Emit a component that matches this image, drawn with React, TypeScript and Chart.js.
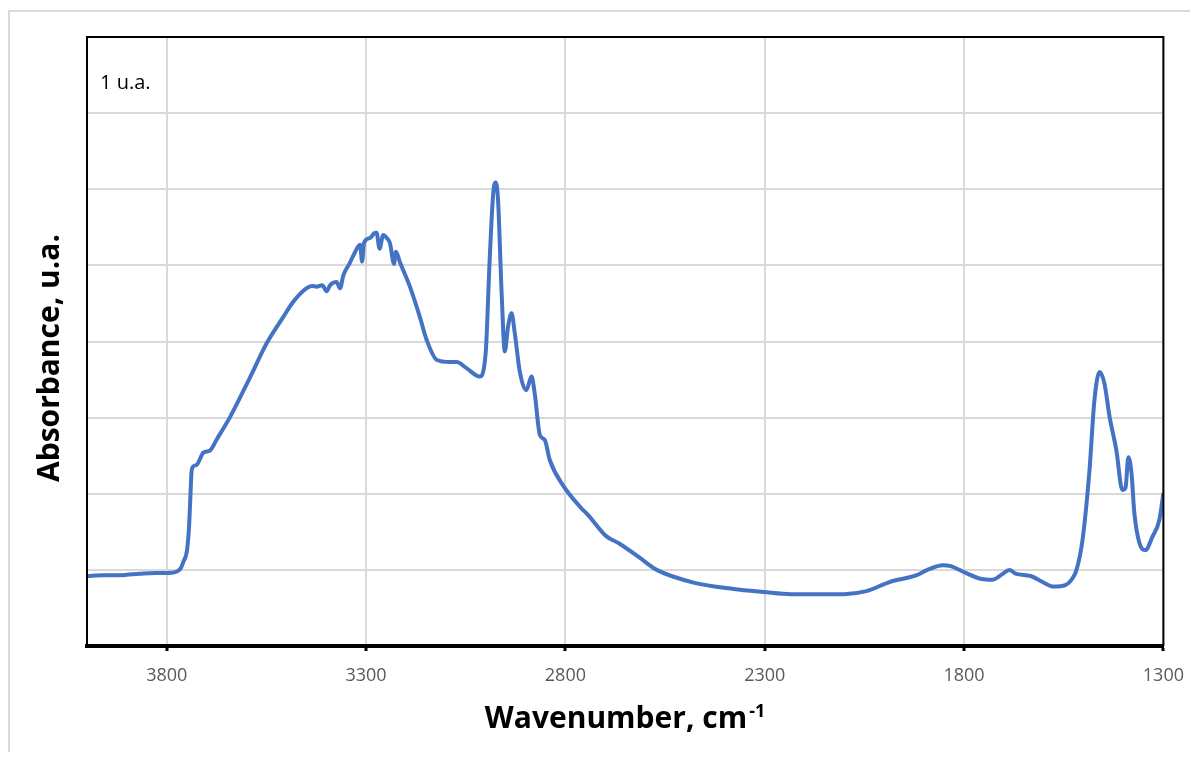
import React, { useEffect, useRef } from "react";
import { Chart, registerables } from "chart.js";

Chart.register(...registerables);

// Wavenumber (cm-1), descending
const wavenumbers = [
  4000, 3960, 3917, 3867, 3830, 3799, 3779, 3765, 3758, 3749, 3744, 3741, 3738, 3735, 3725, 3708, 3691,
  3675, 3641, 3591, 3549, 3508, 3483, 3449, 3436, 3424, 3410, 3399, 3390, 3374, 3365, 3357, 3341,
  3330, 3315, 3310, 3305, 3290, 3280, 3274, 3266, 3257, 3248, 3240, 3230, 3225, 3215, 3190, 3165,
  3148, 3123, 3090, 3073, 3048, 3015, 3000, 2990, 2981, 2975, 2969, 2960, 2952, 2944, 2935, 2927,
  2914, 2898, 2885, 2877, 2864, 2852, 2839, 2806, 2760, 2743, 2697, 2666, 2614, 2571, 2476, 2378,
  2303, 2235, 2102, 2045, 1987, 1919, 1892, 1853, 1834, 1796, 1756, 1729, 1700, 1686, 1671, 1633,
  1603, 1576, 1546, 1528, 1518, 1503, 1486, 1473, 1460, 1448, 1435, 1418, 1403, 1395, 1388, 1380,
  1373, 1360, 1345, 1328, 1310, 1300,
];

// Absorbance (u.a.)
const absorbance = [
  0.92, 0.93, 0.93, 0.95, 0.96, 0.96, 0.97, 1.02, 1.11, 1.26, 1.57, 1.92, 2.27, 2.35, 2.38, 2.54, 2.57,
  2.71, 3.01, 3.53, 3.98, 4.32, 4.52, 4.7, 4.73, 4.72, 4.74, 4.66, 4.74, 4.78, 4.7, 4.87, 5.03,
  5.15, 5.27, 5.05, 5.3, 5.36, 5.42, 5.43, 5.22, 5.4, 5.36, 5.29, 5.02, 5.18, 5.04, 4.72, 4.32,
  4.02, 3.76, 3.73, 3.73, 3.65, 3.54, 3.85, 5.07, 5.95, 6.09, 5.86, 4.64, 3.87, 4.19, 4.37, 4.11,
  3.59, 3.36, 3.54, 3.32, 2.77, 2.71, 2.44, 2.11, 1.81, 1.72, 1.44, 1.35, 1.16, 1.0, 0.83, 0.75,
  0.71, 0.68, 0.68, 0.72, 0.84, 0.93, 1.0, 1.06, 1.05, 0.96, 0.88, 0.87, 0.96, 1.0, 0.95, 0.92,
  0.84, 0.78, 0.8, 0.89, 1.0, 1.39, 2.27, 3.23, 3.6, 3.45, 3.01, 2.57, 2.05, 2.08, 2.48, 2.27,
  1.75, 1.35, 1.26, 1.43, 1.66, 2.01,
];

const xTickValues = [3800, 3300, 2800, 2300, 1800, 1300];
const xMin = 1300;
const xMax = 4000;
const yMin = 0;
const yMax = 8;

const xTitle = "Wavenumber, cm";
const xTitleSup = "-1";
const yTitle = "Absorbance, u.a.";
const unitLabel = "1 u.a.";

const FONT = '"Open Sans", "Noto Sans", sans-serif';
const LINE_COLOR = "#4472C4";
const GRID_COLOR = "#d9d9d9";

export default function App() {
  const ref = useRef<HTMLCanvasElement | null>(null);

  useEffect(() => {
    const canvas = ref.current;
    if (!canvas) return;

    const decor = {
      id: "decor",
      beforeDraw(chart: any) {
        const ctx = chart.ctx;
        ctx.save();
        ctx.strokeStyle = GRID_COLOR;
        ctx.lineWidth = 2;
        ctx.beginPath();
        ctx.moveTo(1, chart.height);
        ctx.lineTo(1, 3);
        ctx.lineTo(chart.width, 3);
        ctx.stroke();
        ctx.restore();
      },
      afterDraw(chart: any) {
        const { ctx, chartArea: a } = chart;
        ctx.save();
        ctx.strokeStyle = "#000";
        ctx.lineWidth = 2;
        ctx.beginPath();
        ctx.moveTo(a.left, a.bottom);
        ctx.lineTo(a.left, a.top);
        ctx.lineTo(a.right, a.top);
        ctx.lineTo(a.right, a.bottom);
        ctx.stroke();

        ctx.fillStyle = "#000";
        ctx.font = `20px ${FONT}`;
        ctx.textAlign = "left";
        ctx.textBaseline = "middle";
        ctx.fillText(unitLabel, a.left + 13, a.top + 46);

        // x title with superscript
        ctx.font = `bold 30px ${FONT}`;
        const w1 = ctx.measureText(xTitle).width;
        ctx.font = `bold 18px ${FONT}`;
        const w2 = ctx.measureText(xTitleSup).width;
        const cx = 617;
        const sx = cx - (w1 + w2 + 2) / 2;
        ctx.textBaseline = "alphabetic";
        ctx.font = `bold 30px ${FONT}`;
        ctx.fillText(xTitle, sx, 720);
        ctx.font = `bold 18px ${FONT}`;
        ctx.fillText(xTitleSup, sx + w1 + 2, 709);

        // y title
        ctx.translate(42, 350);
        ctx.rotate(-Math.PI / 2);
        ctx.font = `bold 30px ${FONT}`;
        ctx.textAlign = "center";
        ctx.textBaseline = "middle";
        ctx.fillText(yTitle, 0, 0);
        ctx.restore();
      },
    };

    const chart = new Chart(canvas, {
      type: "line",
      data: {
        datasets: [
          {
            data: wavenumbers.map((w, i) => ({ x: w, y: absorbance[i] })),
            borderColor: LINE_COLOR,
            borderWidth: 4,
            pointRadius: 0,
            cubicInterpolationMode: "monotone",
            fill: false,
          },
        ],
      },
      options: {
        responsive: false,
        animation: false,
        events: [],
        layout: { padding: { left: 0, right: 34, top: 29, bottom: 0 } },
        plugins: { legend: { display: false }, tooltip: { enabled: false }, title: { display: false } },
        scales: {
          x: {
            type: "linear",
            reverse: true,
            min: xMin,
            max: xMax,
            afterBuildTicks: (scale: any) => {
              scale.ticks = xTickValues.map((v) => ({ value: v }));
            },
            afterFit: (scale: any) => {
              scale.height = 106;
            },
            ticks: {
              color: "#595959",
              font: { family: FONT, size: 18 },
              padding: 14,
              maxRotation: 0,
              autoSkip: false,
              callback: (v: any) => String(v),
            },
            grid: {
              color: GRID_COLOR,
              lineWidth: 2,
              drawTicks: true,
              tickLength: 5,
              tickColor: "#000",
              tickWidth: 3,
            },
            border: { display: true, color: "#000", width: 4 },
          },
          y: {
            min: yMin,
            max: yMax,
            afterFit: (scale: any) => {
              scale.width = 79;
            },
            ticks: { display: false, stepSize: 1 },
            grid: { color: GRID_COLOR, lineWidth: 2, drawTicks: false },
            border: { display: true, color: "#000", width: 2 },
          },
        },
      },
      plugins: [decor],
    } as any);

    return () => chart.destroy();
  }, []);

  return (
    <div style={{ width: 1190, height: 744, position: "relative" }}>
      <canvas ref={ref} width={1190} height={744} style={{ display: "block" }} />
    </div>
  );
}
